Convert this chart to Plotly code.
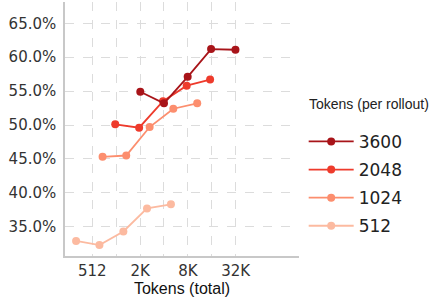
import plotly.graph_objects as go

series_names = ["3600", "2048", "1024", "512"]
colors = {"3600": "#a81419", "2048": "#ee3b2c", "1024": "#fc8e6e", "512": "#fcbaa0"}

x_3600 = [2060, 4096, 8140, 16050, 32550]
y_3600 = [0.549, 0.532, 0.571, 0.612, 0.611]

x_2048 = [996, 1992, 3984, 7910, 15600]
y_2048 = [0.501, 0.496, 0.535, 0.558, 0.567]

x_1024 = [690, 1370, 2702, 5367, 10734]
y_1024 = [0.453, 0.455, 0.497, 0.524, 0.532]

x_512 = [320, 630, 1261, 2504, 5008]
y_512 = [0.329, 0.323, 0.343, 0.377, 0.383]

data = {"3600": (x_3600, y_3600), "2048": (x_2048, y_2048),
        "1024": (x_1024, y_1024), "512": (x_512, y_512)}

x_tickvals = [512, 2048, 8192, 32768]
x_ticktext = ["512", "2K", "8K", "32K"]
x_minorvals = [1024, 4096, 16384]
y_tickvals = [0.35, 0.40, 0.45, 0.50, 0.55, 0.60, 0.65]

fig = go.Figure()
for rank, name in zip([4, 3, 2, 1], ["512", "1024", "2048", "3600"]):
    xs, ys = data[name]
    fig.add_trace(go.Scatter(
        x=xs, y=ys, name=name, mode="lines+markers",
        line=dict(color=colors[name], width=1.8),
        marker=dict(color=colors[name], size=8),
        legendgroup=name, legendrank=rank,
    ))

grid_color = "#dcdcdc"
fig.update_layout(
    width=432, height=297,
    margin=dict(l=65, r=133, t=2, b=41, autoexpand=False),
    plot_bgcolor="white", paper_bgcolor="white",
    font=dict(family="DejaVu Sans", size=15, color="#333333"),
    showlegend=True,
    legend=dict(
        font=dict(family="DejaVu Sans", size=17, color="#222222"),
        x=1.02, xanchor="left", y=0.52, yanchor="top",
        tracegroupgap=3, itemwidth=45, bgcolor="rgba(0,0,0,0)",
    ),
    annotations=[dict(
        text="Tokens (per rollout)", xref="paper", yref="paper",
        x=1.034, y=0.598, xanchor="left", yanchor="middle", showarrow=False,
        font=dict(family="Liberation Sans", size=14, color="#222222"),
    )],
    xaxis=dict(
        type="log", range=[2.3655, 5.3129], automargin=False,
        tickvals=x_tickvals, ticktext=x_ticktext,
        showgrid=True, gridcolor=grid_color, griddash="dash", gridwidth=1,
        minor=dict(tickvals=x_minorvals, showgrid=True, gridcolor=grid_color, griddash="dash", gridwidth=1, ticks=""),
        showline=True, linecolor="#c8c8c8", linewidth=1.5,
        ticks="", zeroline=False,
        title=dict(text="Tokens (total)", font=dict(family="Liberation Sans", size=16, color="#111111"), standoff=0),
    ),
    yaxis=dict(
        range=[0.3068, 0.6814], automargin=False,
        tickvals=y_tickvals, tickformat=".1%", ticklabelstandoff=4,
        showgrid=True, gridcolor=grid_color, griddash="dash", gridwidth=1,
        showline=True, linecolor="#c8c8c8", linewidth=1.5,
        ticks="", zeroline=False,
    ),
)

fig.write_html("out.html", config={"displayModeBar": False},
               post_script="document.body.style.margin='0';document.body.style.overflow='hidden';")
